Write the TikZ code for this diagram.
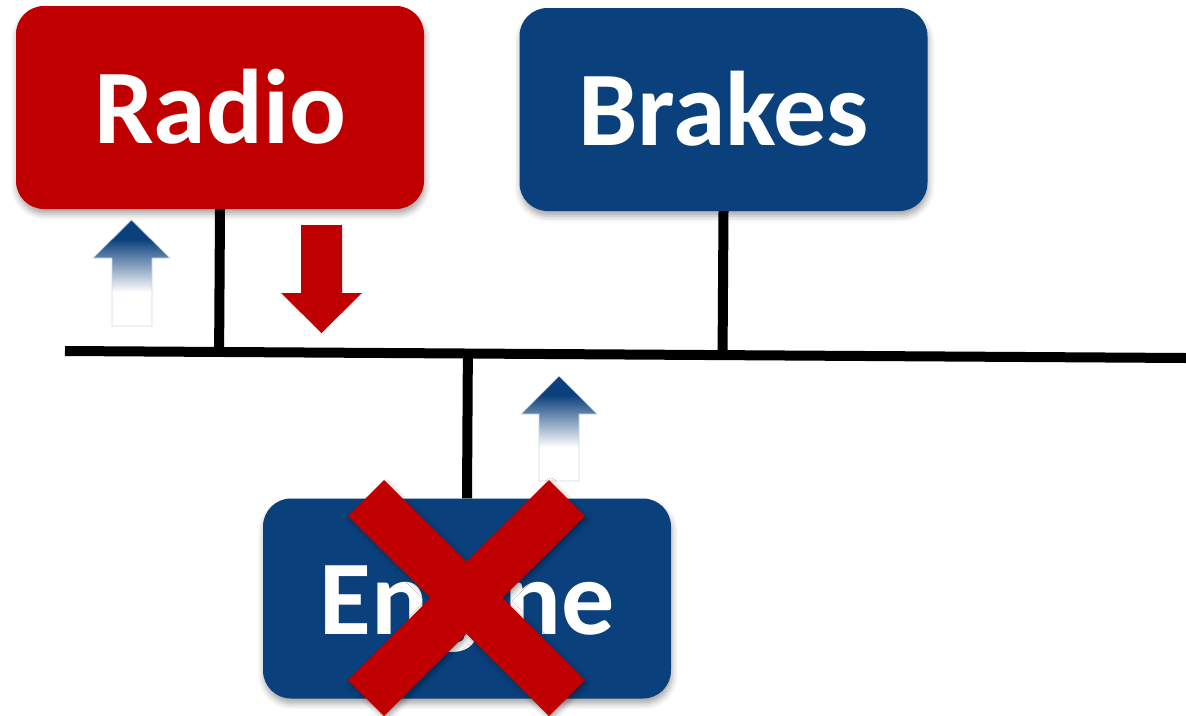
\documentclass[tikz,border=0pt]{standalone}
\usepackage{fontspec}
\setmainfont{Carlito}
\usepackage{tikz}
\usetikzlibrary{calc,shadows.blur}
\definecolor{ecured}{HTML}{C00000}
\definecolor{ecublue}{HTML}{0A407C}
\pgfdeclareverticalshading{fadeup}{100bp}{color(0bp)=(white); color(41bp)=(white);
  color(66bp)=(ecublue); color(100bp)=(ecublue)}
\tikzset{
    ecubox/.style={rounded corners=28pt,minimum width=408pt,minimum height=203pt,
      inner sep=0pt,text height=72pt,text depth=0pt,text=white,
      font=\bfseries\fontsize{106}{110}\selectfont,
      blur shadow={shadow xshift=1pt,shadow yshift=-5pt,shadow blur radius=6pt,
        shadow opacity=35}},
    busline/.style={draw=black,line width=10pt},
    sendarrow/.style={shading=fadeup,draw=ecublue!20,line width=0.7pt},
    recvarrow/.style={fill=ecured},
    crossmark/.style={fill=ecured,blur shadow={shadow xshift=2pt,shadow yshift=-3pt,
      shadow blur radius=5pt,shadow opacity=35}}
}
\begin{document}
\begin{tikzpicture}[x=1pt,y=-1pt]
    \useasboundingbox (0,0) rectangle (1186,715);
    \node[ecubox,fill=ecured] (radio) at (220,107.5) {Radio};
    \node[ecubox,fill=ecublue] (brakes) at (723.5,109.5) {Brakes};
    \node[ecubox,fill=ecublue,minimum height=200pt] (engine) at (467,598.5) {Engine};
    % the shared bus and the stubs onto it
    \coordinate (busL) at (65,351);
    \coordinate (busR) at (1186,358);
    \draw[busline] (busL) -- (busR);
    \foreach \ecu in {radio,brakes}
        \draw[busline] (\ecu.south) -- ($(busL)!(\ecu.south)!(busR)$);
    \draw[busline] ($(busL)!(engine.north)!(busR)$) -- (engine.north);
    % message arrows
    \path[sendarrow] (112,326) -- (112,258) -- (93,258) -- (131.5,220)
        -- (170,258) -- (152,258) -- (152,326) -- cycle;
    \path[recvarrow] (301,225) -- (342,225) -- (342,293) -- (362,293)
        -- (321.5,333) -- (281,293) -- (301,293) -- cycle;
    \path[sendarrow] (539,481) -- (539,414) -- (521,414) -- (559,376)
        -- (597,414) -- (579,414) -- (579,481) -- cycle;
    % engine failed
    \path[crossmark] (348,516) -- (384,480) -- (585,680) -- (549,716) -- cycle
        (549,480) -- (585,516) -- (384,716) -- (348,680) -- cycle;
\end{tikzpicture}
\end{document}
